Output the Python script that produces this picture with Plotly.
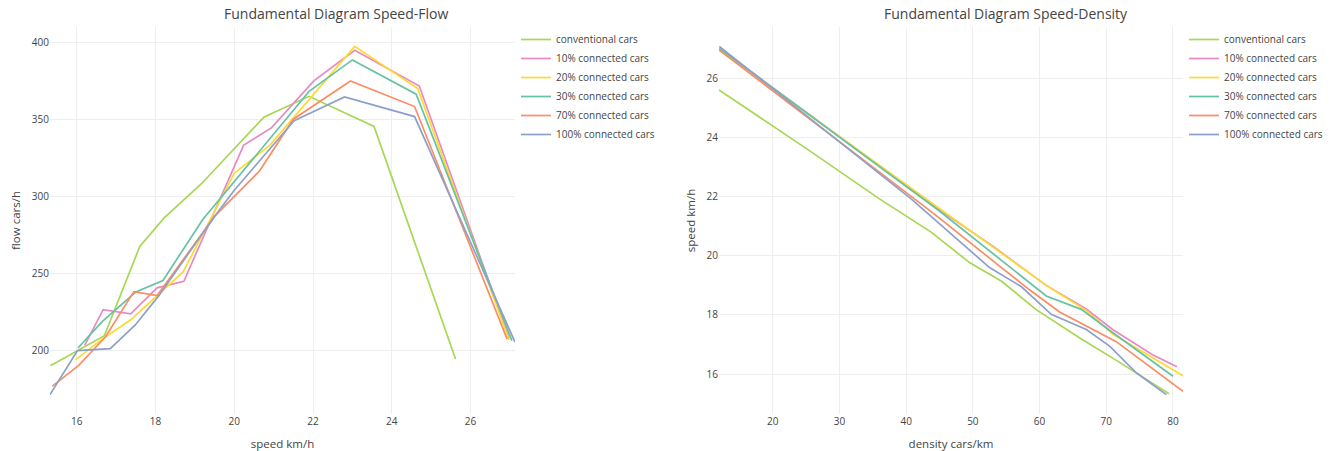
import plotly.graph_objects as go
from plotly.subplots import make_subplots

series_names = ["conventional cars", "10% connected cars", "20% connected cars",
                "30% connected cars", "70% connected cars", "100% connected cars"]
series_colors = ["#a6d854", "#e78ac3", "#ffd92f", "#66c2a5", "#fc8d62", "#8da0cb"]

# ---- Speed-Flow (left) : speed km/h vs flow cars/h ----
sf_speed_conv = [15.33, 16.7, 17.6, 18.22, 19.16, 20.76, 21.9, 23.55, 25.62]
sf_flow_conv = [190.3, 209.7, 267.5, 286.0, 308.0, 351.5, 364.8, 345.3, 194.6]

sf_speed_10 = [16.2, 16.67, 17.37, 18.04, 18.72, 20.24, 20.95, 22.02, 23.06, 24.7, 26.98]
sf_flow_10 = [203.5, 226.6, 223.8, 240.7, 245.0, 333.2, 344.5, 374.8, 394.6, 371.5, 208.0]

sf_speed_20 = [15.97, 16.62, 17.37, 18.05, 18.7, 20.0, 20.9, 23.06, 24.66, 26.98]
sf_flow_20 = [194.0, 207.0, 220.0, 236.0, 251.0, 315.0, 333.0, 397.2, 369.8, 207.0]

sf_speed_30 = [16.03, 16.65, 17.5, 18.19, 19.2, 21.9, 23.0, 24.62, 27.05]
sf_flow_30 = [201.7, 219.0, 238.0, 245.5, 285.0, 368.0, 388.4, 366.2, 206.5]

sf_speed_70 = [15.38, 16.05, 16.73, 17.45, 18.04, 18.8, 19.5, 20.64, 21.5, 22.95, 24.58, 26.93]
sf_flow_70 = [177.0, 190.5, 209.0, 238.3, 235.7, 262.0, 287.0, 316.4, 350.0, 374.8, 358.2, 207.5]

sf_speed_100 = [15.32, 16.02, 16.85, 17.48, 18.08, 19.5, 20.0, 21.52, 22.8, 24.58, 27.13]
sf_flow_100 = [171.5, 200.0, 201.3, 216.5, 235.5, 287.0, 304.0, 349.0, 364.4, 351.7, 205.5]

# ---- Speed-Density (right) : density cars/km vs speed km/h ----
sd_density_conv = [11.95, 25.5, 36.0, 43.8, 49.5, 54.3, 59.5, 66.2, 72.0, 79.4]
sd_speed_conv = [25.6, 23.55, 21.92, 20.79, 19.77, 19.14, 18.18, 17.2, 16.4, 15.34]

sd_density_10 = [12.0, 45.0, 53.0, 61.0, 67.0, 71.0, 77.0, 80.6]
sd_speed_10 = [27.0, 21.55, 20.32, 19.0, 18.2, 17.5, 16.65, 16.25]

sd_density_20 = [11.95, 43.2, 53.0, 61.0, 67.0, 71.0, 81.5]
sd_speed_20 = [26.95, 21.9, 20.3, 19.0, 18.15, 17.35, 15.95]

sd_density_30 = [12.0, 45.0, 61.0, 66.25, 71.0, 80.0]
sd_speed_30 = [27.0, 21.51, 18.64, 18.19, 17.4, 15.93]

sd_density_70 = [11.95, 44.0, 54.0, 58.5, 63.0, 71.5, 81.5]
sd_speed_70 = [26.95, 21.45, 19.65, 18.85, 18.1, 17.1, 15.42]

sd_density_100 = [12.0, 40.75, 52.5, 57.25, 61.75, 67.0, 70.5, 74.5, 79.0]
sd_speed_100 = [27.07, 21.92, 19.6, 18.96, 18.02, 17.51, 16.95, 16.05, 15.31]

sf_x = [sf_speed_conv, sf_speed_10, sf_speed_20, sf_speed_30, sf_speed_70, sf_speed_100]
sf_y = [sf_flow_conv, sf_flow_10, sf_flow_20, sf_flow_30, sf_flow_70, sf_flow_100]
sd_x = [sd_density_conv, sd_density_10, sd_density_20, sd_density_30, sd_density_70, sd_density_100]
sd_y = [sd_speed_conv, sd_speed_10, sd_speed_20, sd_speed_30, sd_speed_70, sd_speed_100]

fig = make_subplots(rows=1, cols=2)

for name, color, xs, ys in zip(series_names, series_colors, sf_x, sf_y):
    fig.add_trace(go.Scatter(x=xs, y=ys, mode="lines", name=name,
                             line=dict(color=color, width=1.7), legend="legend"),
                  row=1, col=1)
for name, color, xs, ys in zip(series_names, series_colors, sd_x, sd_y):
    fig.add_trace(go.Scatter(x=xs, y=ys, mode="lines", name=name,
                             line=dict(color=color, width=1.7), legend="legend2"),
                  row=1, col=2)

W, H = 1342, 451
ML, MR, MT, MB = 50, 0, 27, 37
pw = W - ML - MR
ph = H - MT - MB

def px_x(p):
    return (p - ML) / pw

def px_y(p):
    return 1 - (p - MT) / ph

axis_common = dict(showgrid=True, gridcolor="#eeeeee", gridwidth=1, zeroline=False,
                   showline=False, ticks="", automargin=True,
                   tickfont=dict(size=10, color="#444"))
title_font = dict(size=11.5, color="#444")

fig.update_layout(
    width=W, height=H,
    margin=dict(l=ML, r=MR, t=MT, b=MB, autoexpand=False),
    paper_bgcolor="white", plot_bgcolor="white",
    font=dict(family="Open Sans, verdana, arial, sans-serif", color="#444"),
    xaxis=dict(domain=[0, px_x(515)], dtick=2,
               title=dict(text="speed km/h", font=title_font), **axis_common),
    yaxis=dict(dtick=50, title=dict(text="flow cars/h", font=title_font, standoff=8), **axis_common),
    xaxis2=dict(domain=[px_x(719), px_x(1183)], dtick=10,
                title=dict(text="density cars/km", font=title_font), **axis_common),
    yaxis2=dict(dtick=2, title=dict(text="speed km/h", font=title_font, standoff=8), **axis_common),
    legend=dict(x=px_x(516), y=px_y(25), xanchor="left", yanchor="top",
                font=dict(size=10, color="#444"), bgcolor="rgba(0,0,0,0)"),
    legend2=dict(x=px_x(1184), y=px_y(25), xanchor="left", yanchor="top",
                 font=dict(size=10, color="#444"), bgcolor="rgba(0,0,0,0)"),
    showlegend=True,
    annotations=[
        dict(text="Fundamental Diagram Speed-Flow", x=px_x(335.5), y=px_y(13),
             xref="paper", yref="paper", xanchor="center", yanchor="middle",
             showarrow=False, font=dict(size=14, color="#444")),
        dict(text="Fundamental Diagram Speed-Density", x=px_x(1005.5), y=px_y(13),
             xref="paper", yref="paper", xanchor="center", yanchor="middle",
             showarrow=False, font=dict(size=14, color="#444")),
    ],
)

fig.write_html("out.html",
               config={"displayModeBar": False},
               post_script="document.body.style.margin='0';document.body.style.overflow='hidden';")
